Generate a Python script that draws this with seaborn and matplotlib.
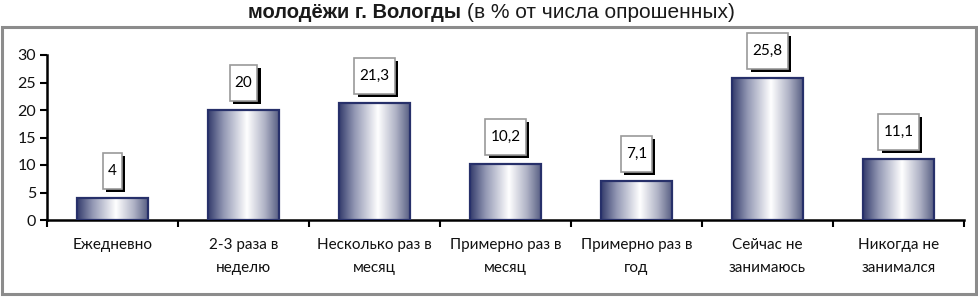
import numpy as np
import pandas as pd
import matplotlib
matplotlib.use("Agg")
import matplotlib.pyplot as plt
import seaborn as sns
from matplotlib.path import Path
from matplotlib.colors import LinearSegmentedColormap
from matplotlib.patches import Rectangle
import matplotlib.patheffects as pe
from matplotlib.ticker import FixedLocator, MultipleLocator

categories = ["Ежедневно", "2-3 раза в\nнеделю", "Несколько раз в\nмесяц",
              "Примерно раз в\nмесяц", "Примерно раз в\nгод", "Сейчас не\nзанимаюсь",
              "Никогда не\nзанимался"]
values = [4, 20, 21.3, 10.2, 7.1, 25.8, 11.1]
value_labels = ["4", "20", "21,3", "10,2", "7,1", "25,8", "11,1"]

title_bold = "молодёжи г. Вологды"
title_regular = "(в % от числа опрошенных)"

sns.set_theme(style="white")
plt.rcParams['font.family'] = ['Lato', 'DejaVu Sans']

fig = plt.figure(figsize=(9.79, 2.97), dpi=100)
ax = fig.add_axes([47/979, 1-220/297, (964-47)/979, (220-55)/297])

df = pd.DataFrame({"cat": categories, "val": values})
sns.barplot(data=df, x="cat", y="val", ax=ax, color="#8890b0", width=0.535,
            edgecolor="#27306a", linewidth=1.6, saturation=1)

cmap = LinearSegmentedColormap.from_list("g", [
    (0.0, "#343c6c"), (0.22, "#9398b4"), (0.55, "#ffffff"), (0.8, "#b0b3c6"), (1.0, "#596084")])
grad = np.linspace(0, 1, 256).reshape(1, -1)
for p in ax.patches:
    x0, y0 = p.get_x(), p.get_y()
    w, h = p.get_width(), p.get_height()
    im = ax.imshow(grad, cmap=cmap, aspect="auto", extent=[x0, x0 + w, y0, y0 + h],
                   interpolation="bilinear")
    p.set_facecolor("none")
    p.set_zorder(3)
    im.set_zorder(2.5)

ax.set_xlim(-0.5, len(categories) - 0.5)
ax.set_ylim(0, 30)
ax.yaxis.set_major_locator(MultipleLocator(5))

def padded_box(x0, y0, width, height, mutation_size, padx=4.5, pady=10.0):
    s = mutation_size / 10.0
    px, py = padx * s * 0.72, pady * s * 0.72
    verts = [(x0 - px, y0 - py), (x0 + width + px, y0 - py),
             (x0 + width + px, y0 + height + py), (x0 - px, y0 + height + py),
             (x0 - px, y0 - py)]
    return Path(verts, closed=True)

for i, (v, lab) in enumerate(zip(values, value_labels)):
    t = ax.annotate(lab, xy=(i, v), xytext=(0, 19.5), textcoords="offset points",
                    ha="center", va="center", fontsize=11, color="black",
                    fontfamily=["Lato", "DejaVu Sans"],
                    bbox=dict(boxstyle=padded_box, fc="white", ec="#9a9a9a", lw=1.2),
                    zorder=5)
    t.get_bbox_patch().set_path_effects([
        pe.SimplePatchShadow(offset=(2.4, -2.4), shadow_rgbFace="black", alpha=1.0),
        pe.Normal()])

ax.set_xlabel("")
ax.set_ylabel("")
for s in ["top", "right"]:
    ax.spines[s].set_visible(False)
for s in ["left", "bottom"]:
    ax.spines[s].set_color("black")
    ax.spines[s].set_linewidth(1.8)

ax.tick_params(axis="y", which="major", direction="out", length=5, width=1.5,
               color="black", labelsize=11.5, pad=3, left=True)
ax.tick_params(axis="x", which="major", length=0, labelsize=11, pad=13)
ax.xaxis.set_minor_locator(FixedLocator(np.arange(-0.5, len(categories), 1.0)))
ax.tick_params(axis="x", which="minor", direction="out", length=5, width=1.5,
               color="black", bottom=True)
for lbl in ax.get_xticklabels():
    lbl.set_linespacing(1.8)
    lbl.set_color("#111111")
for lbl in ax.get_yticklabels():
    lbl.set_color("#111111")

# outer frame
fig.patches.append(Rectangle((2/979, 3/297), 974/979, (294-27)/297,
                             transform=fig.transFigure, fill=False,
                             ec="#8c8c8c", lw=2.2))

fig.text(461/979, 1-12/297, title_bold, ha="right", va="center", fontsize=14.5,
         fontweight="bold", family=["Liberation Sans", "DejaVu Sans"], color="#1a1a1a")
fig.text(467/979, 1-12/297, title_regular, ha="left", va="center", fontsize=15,
         family=["Liberation Sans", "DejaVu Sans"], color="#1a1a1a")

fig.savefig("out.png", dpi=100)
